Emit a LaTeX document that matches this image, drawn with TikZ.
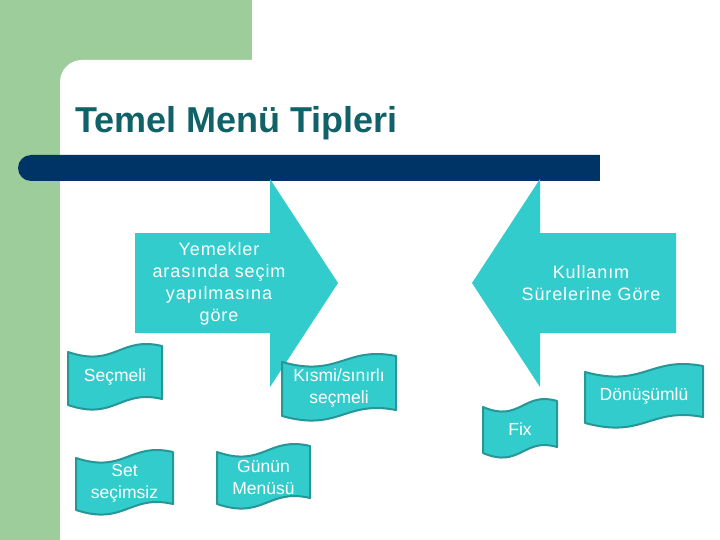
\documentclass[tikz,border=0pt]{standalone}
\usepackage{fontspec}
\setmainfont{Liberation Sans}
\definecolor{sidegreen}{RGB}{158,205,156}
\definecolor{barblue}{RGB}{0,51,102}
\definecolor{titleteal}{RGB}{16,98,104}
\definecolor{aqua}{RGB}{51,204,204}
\definecolor{aquaedge}{RGB}{38,150,152}
\tikzset{
  arrowshape/.style={fill=aqua, draw=none},
  bannershape/.style={fill=aqua, draw=aquaedge, line width=2pt, line join=round},
  whitetext/.style={text=white, align=center, inner sep=0pt, font=\fontsize{17.5}{22}\selectfont},
  arrowtext/.style={text=white, align=center, inner sep=0pt,
    font=\fontsize{18}{22}\selectfont\addfontfeatures{LetterSpace=5}},
}
\newcommand\wavebanner[6]{%
  \path[bannershape] (#2,#3)
    .. controls ({#2+0.5*(#4-#2)},{#3+16}) and ({#2+0.55*(#4-#2)},{#3-16}) .. (#4,{#3-6})
    -- (#4,{#5-6})
    .. controls ({#2+0.55*(#4-#2)},{#5-16}) and ({#2+0.5*(#4-#2)},{#5+16}) .. (#2,#5)
    -- cycle;
  \node[whitetext] (#1) at ({(#2+#4)/2},{(#3+#5)/2-1}) {#6};}
\begin{document}
\begin{tikzpicture}[x=1pt,y=-1pt]
\useasboundingbox (0,0) rectangle (720,540);
% background
\fill[white] (0,0) rectangle (720,540);
\fill[sidegreen] (0,0) rectangle (252,540);
\fill[white, rounded corners=22pt] (60,60) rectangle (760,580);
% title
\node[anchor=base west, inner sep=0pt, text=titleteal,
      font=\fontsize{36}{40}\selectfont\bfseries] (title) at (75,133) {Temel Menü Tipleri};
% dark bar
\fill[barblue, rounded corners=13pt] (18,155) rectangle (620,181);
\fill[barblue] (590,155) rectangle (600,181);
\fill[white] (600,150) rectangle (640,190);
% right-pointing arrow
\path[arrowshape] (135,233) -- (270,233) -- (270,179) -- (338,283) -- (270,387)
  -- (270,333) -- (135,333) -- cycle;
\node[arrowtext] (yemek) at (219,284) {Yemekler\\arasında seçim\\yapılmasına\\göre};
% left-pointing arrow
\path[arrowshape] (676,233) -- (540,233) -- (540,179) -- (472,283) -- (540,387)
  -- (540,333) -- (676,333) -- cycle;
\node[arrowtext] (kullanim) at (591,283) {Kullanım\\Sürelerine Göre};
% banners
\wavebanner{secmeli}{68}{352}{162}{405}{Seçmeli}
\wavebanner{kismi}{282}{362}{396}{416}{Kısmi/sınırlı\\seçmeli}
\wavebanner{set}{76}{458}{173}{510}{Set\\seçimsiz}
\wavebanner{gunun}{217}{452}{310}{504}{Günün\\Menüsü}
\wavebanner{donusumlu}{585}{372}{703}{423}{Dönüşümlü}
\wavebanner{fix}{483}{407}{557}{453}{Fix}
\end{tikzpicture}
\end{document}
